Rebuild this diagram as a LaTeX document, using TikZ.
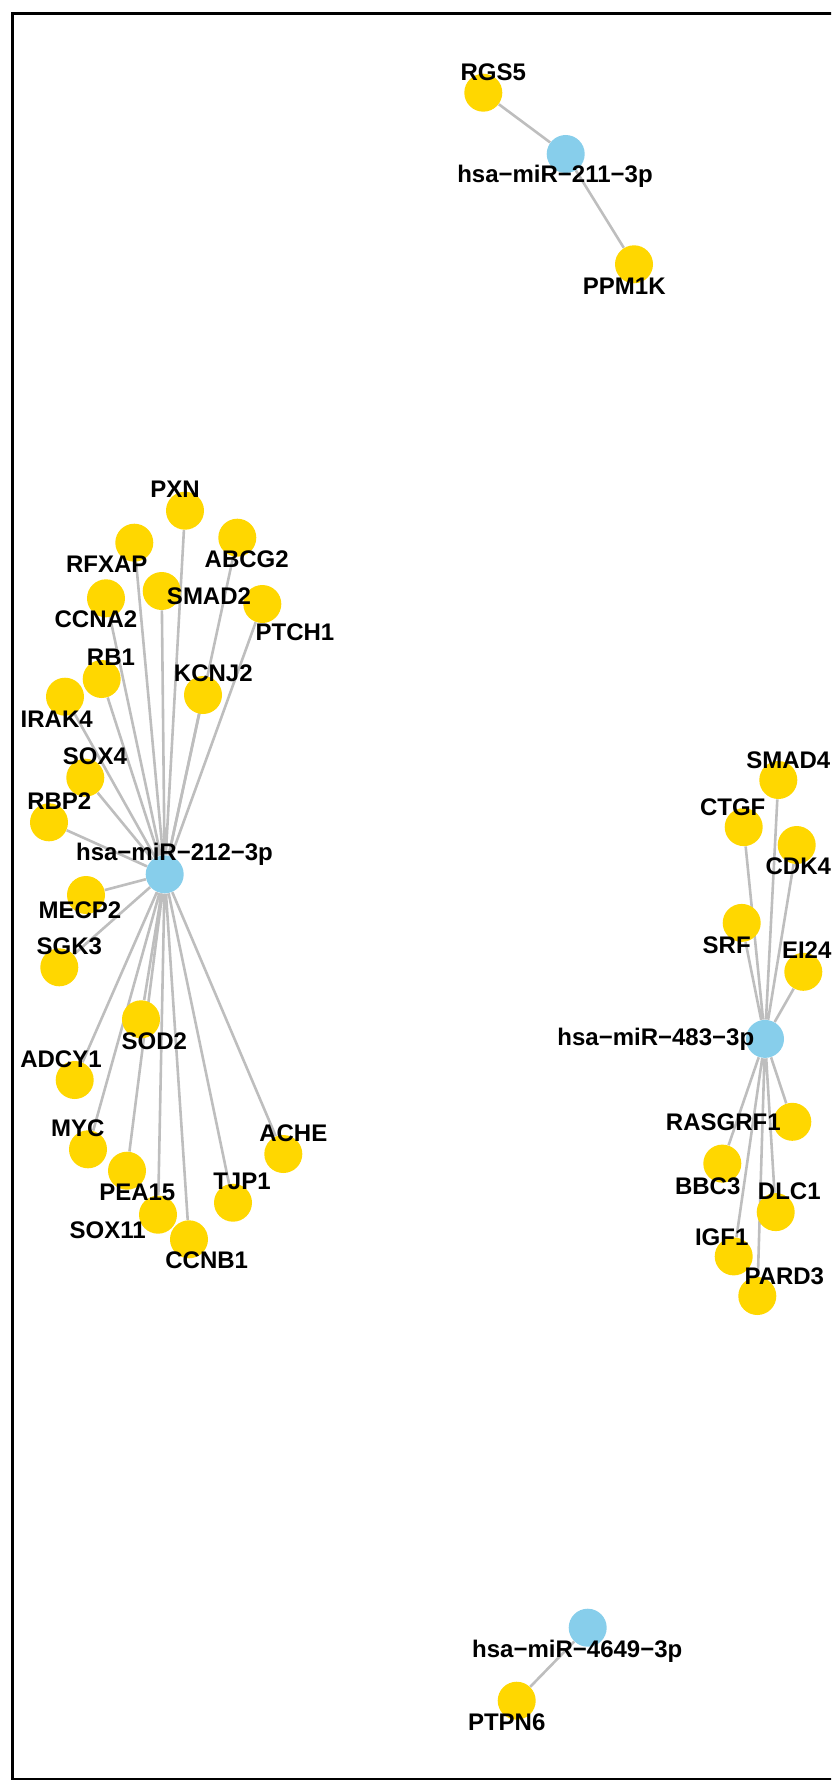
\documentclass[tikz,border=0pt]{standalone}
\usepackage{fontspec}
\setmainfont{Liberation Sans}
\usepackage{tikz}
\usetikzlibrary{%
		backgrounds%
	}

\definecolor{mirblue}{HTML}{87CEEB}
\definecolor{geneyellow}{HTML}{FFD700}
\definecolor{linkgray}{HTML}{BEBEBE}

\tikzset{
	mirna/.style={circle, fill=mirblue, minimum size=19pt, inner sep=0pt},
	gene/.style={circle, fill=geneyellow, minimum size=19pt, inner sep=0pt},
	tag/.style={inner sep=0pt, font=\bfseries\fontsize{12}{12}\selectfont},
	link/.style={draw=linkgray, line width=1.3pt}
}

\begin{document}
\begin{tikzpicture}[x=0.5pt, y=-0.5pt]
			\useasboundingbox (0,0) rectangle (831,1781);
			\clip (0,0) rectangle (831,1781);
			% frame
			\draw[line width=1.4pt] (850,13.5) -- (12.5,13.5) -- (12.5,1779) -- (850,1779);
			% hsa-miR-211-3p
			\node[mirna] (mir211) at (565.7,154) {};
			\node[gene] (rgs5) at (483.3,92.7) {};
			\node[gene] (ppm1k) at (634,264.3) {};
			% hsa-miR-212-3p
			\node[mirna] (mir212) at (164.7,874.3) {};
			\node[gene] (pxn) at (185,510.7) {};
			\node[gene] (rfxap) at (134.3,542.7) {};
			\node[gene] (abcg2) at (237.3,537.7) {};
			\node[gene] (smad2) at (161.7,591) {};
			\node[gene] (ccna2) at (106,598.3) {};
			\node[gene] (ptch1) at (262.3,604) {};
			\node[gene] (rb1) at (101.7,679) {};
			\node[gene] (kcnj2) at (203,695) {};
			\node[gene] (irak4) at (65,696.7) {};
			\node[gene] (sox4) at (85.3,777.7) {};
			\node[gene] (rbp2) at (49,822.3) {};
			\node[gene] (mecp2) at (86,895) {};
			\node[gene] (sgk3) at (59.3,967.3) {};
			\node[gene] (sod2) at (141,1019.3) {};
			\node[gene] (adcy1) at (74.7,1080) {};
			\node[gene] (myc) at (88,1149.3) {};
			\node[gene] (pea15) at (127,1170.7) {};
			\node[gene] (ache) at (283.3,1154) {};
			\node[gene] (tjp1) at (233,1202.7) {};
			\node[gene] (sox11) at (158,1214.7) {};
			\node[gene] (ccnb1) at (189,1239.3) {};
			% hsa-miR-483-3p
			\node[mirna] (mir483) at (765,1038.9) {};
			\node[gene] (smad4) at (778.3,780) {};
			\node[gene] (ctgf) at (743.7,827.1) {};
			\node[gene] (cdk4) at (796.7,845) {};
			\node[gene] (srf) at (741.7,922.9) {};
			\node[gene] (ei24) at (803.3,971.8) {};
			\node[gene] (rasgrf1) at (792.3,1121.8) {};
			\node[gene] (bbc3) at (722.3,1163.6) {};
			\node[gene] (dlc1) at (775.7,1212.1) {};
			\node[gene] (igf1) at (733.7,1256.4) {};
			\node[gene] (pard3) at (757.3,1296) {};
			% hsa-miR-4649-3p
			\node[mirna] (mir4649) at (587.7,1627.7) {};
			\node[gene] (ptpn6) at (516.7,1700.7) {};
			% links under the circles
			\begin{pgfonlayer}{background}
				\draw[link] (mir211) -- (rgs5) (mir211) -- (ppm1k);
				\draw[link] (mir212) -- (pxn) (mir212) -- (rfxap) (mir212) -- (abcg2) (mir212) -- (smad2);
				\draw[link] (mir212) -- (ccna2) (mir212) -- (ptch1) (mir212) -- (rb1) (mir212) -- (kcnj2);
				\draw[link] (mir212) -- (irak4) (mir212) -- (sox4) (mir212) -- (rbp2) (mir212) -- (mecp2);
				\draw[link] (mir212) -- (sgk3) (mir212) -- (sod2) (mir212) -- (adcy1) (mir212) -- (myc);
				\draw[link] (mir212) -- (pea15) (mir212) -- (ache) (mir212) -- (tjp1) (mir212) -- (sox11) (mir212) -- (ccnb1);
				\draw[link] (mir483) -- (smad4) (mir483) -- (ctgf) (mir483) -- (cdk4) (mir483) -- (srf) (mir483) -- (ei24);
				\draw[link] (mir483) -- (rasgrf1) (mir483) -- (bbc3) (mir483) -- (dlc1) (mir483) -- (igf1) (mir483) -- (pard3);
				\draw[link] (mir4649) -- (ptpn6);
			\end{pgfonlayer}
			% labels on top
			\node[tag] (t-mir211) at (555,176.7) {hsa−miR−211−3p};
			\node[tag] (t-rgs5) at (493.3,72.7) {RGS5};
			\node[tag] (t-ppm1k) at (624.3,286.7) {PPM1K};
			\node[tag] (t-mir212) at (174.5,854) {hsa−miR−212−3p};
			\node[tag] (t-pxn) at (175,489.3) {PXN};
			\node[tag] (t-rfxap) at (106.7,564) {RFXAP};
			\node[tag] (t-abcg2) at (246.7,559) {ABCG2};
			\node[tag] (t-smad2) at (209,596.7) {SMAD2};
			\node[tag] (t-ccna2) at (96,619.3) {CCNA2};
			\node[tag] (t-ptch1) at (295,632.7) {PTCH1};
			\node[tag] (t-rb1) at (111,657.3) {RB1};
			\node[tag] (t-kcnj2) at (213.3,673.3) {KCNJ2};
			\node[tag] (t-irak4) at (56.7,719) {IRAK4};
			\node[tag] (t-sox4) at (95,756.7) {SOX4};
			\node[tag] (t-rbp2) at (59.3,800.7) {RBP2};
			\node[tag] (t-mecp2) at (80,910) {MECP2};
			\node[tag] (t-sgk3) at (69.3,946.7) {SGK3};
			\node[tag] (t-sod2) at (154.3,1041.7) {SOD2};
			\node[tag] (t-adcy1) at (61,1059) {ADCY1};
			\node[tag] (t-myc) at (77.7,1128.3) {MYC};
			\node[tag] (t-pea15) at (137.3,1192.7) {PEA15};
			\node[tag] (t-ache) at (293.3,1133.3) {ACHE};
			\node[tag] (t-tjp1) at (242,1181) {TJP1};
			\node[tag] (t-sox11) at (107.7,1230.7) {SOX11};
			\node[tag] (t-ccnb1) at (206.7,1260.7) {CCNB1};
			\node[tag] (t-mir483) at (655.8,1039.4) {hsa−miR−483−3p};
			\node[tag] (t-smad4) at (788.3,760) {SMAD4};
			\node[tag] (t-ctgf) at (732.7,806.8) {CTGF};
			\node[tag] (t-cdk4) at (798.3,866.4) {CDK4};
			\node[tag] (t-srf) at (726.7,945) {SRF};
			\node[tag] (t-ei24) at (806.7,950.4) {EI24};
			\node[tag] (t-rasgrf1) at (723.3,1122.5) {RASGRF1};
			\node[tag] (t-bbc3) at (707.7,1186) {BBC3};
			\node[tag] (t-dlc1) at (789.3,1191.4) {DLC1};
			\node[tag] (t-igf1) at (721.7,1237.1) {IGF1};
			\node[tag] (t-pard3) at (784.3,1276) {PARD3};
			\node[tag] (t-mir4649) at (577.3,1651.7) {hsa−miR−4649−3p};
			\node[tag] (t-ptpn6) at (506.7,1722.7) {PTPN6};
		\end{tikzpicture}
\end{document}
